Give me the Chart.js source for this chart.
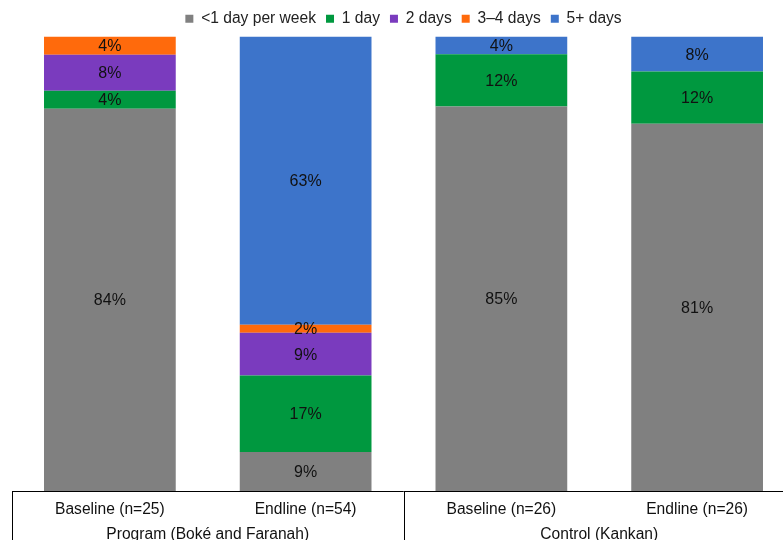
<!DOCTYPE html>
<html>
<head>
<meta charset="utf-8">
<script src="https://cdn.jsdelivr.net/npm/chart.js@4/dist/chart.umd.min.js"></script>
<style>
html,body{margin:0;padding:0;background:#fff;overflow:hidden;width:783px;height:540px;}
#wrap{position:absolute;left:0;top:0;width:800px;height:560px;}
</style>
</head>
<body>
<div id="wrap"><canvas id="c" width="800" height="560"></canvas></div>
<script>
const categories = ["Baseline (n=25)", "Endline (n=54)", "Baseline (n=26)", "Endline (n=26)"];
const groups = ["Program (Boké and Faranah)", "Control (Kankan)"];
const seriesNames = ["<1 day per week", "1 day", "2 days", "3\u20134 days", "5+ days"];
const lessThanOne = [84.1, 8.6, 84.6, 80.8];
const oneDay = [4.0, 16.8, 11.5, 11.5];
const twoDays = [7.9, 9.4, 0, 0];
const threeFourDays = [4.0, 1.8, 0, 0];
const fivePlus = [0, 63.4, 3.9, 7.7];
const colors = ["#808080", "#00983F", "#7A3BBE", "#FF6A0C", "#3D74CA"];

const FONT = "'Liberation Sans', Arial, Helvetica, sans-serif";
const FS = 15.6;

const seriesData = [lessThanOne, oneDay, twoDays, threeFourDays, fivePlus];

const labelPlugin = {
  id: 'barLabels',
  afterDatasetsDraw(chart) {
    const ctx = chart.ctx;
    ctx.save();
    ctx.font = "16px " + FONT;
    ctx.fillStyle = "#111";
    ctx.textAlign = "center";
    ctx.textBaseline = "middle";
    chart.data.datasets.forEach((ds, i) => {
      const meta = chart.getDatasetMeta(i);
      meta.data.forEach((el, j) => {
        const v = ds.data[j];
        if (!v) return;
        const p = el.getProps(['x', 'y', 'base'], true);
        ctx.fillText(Math.round(v) + "%", p.x, (p.y + p.base) / 2 + 1);
      });
    });
    ctx.restore();
  }
};

const framePlugin = {
  id: 'frame',
  afterDraw(chart) {
    const ctx = chart.ctx;
    const a = chart.chartArea;
    const xs = chart.scales.x;
    const mid = (xs.getPixelForValue(1) + xs.getPixelForValue(2)) / 2;
    ctx.save();
    ctx.strokeStyle = "#000";
    ctx.lineWidth = 1;
    ctx.beginPath();
    ctx.moveTo(a.left, a.bottom + 0.5);
    ctx.lineTo(a.right, a.bottom + 0.5);
    [a.left, mid, a.right].forEach(x => {
      const px = Math.round(x) + 0.5;
      ctx.moveTo(px, a.bottom);
      ctx.lineTo(px, chart.height);
    });
    ctx.stroke();
    ctx.restore();
  }
};

new Chart(document.getElementById('c'), {
  type: 'bar',
  data: {
    labels: categories,
    datasets: seriesNames.map((n, i) => ({
      label: n,
      data: seriesData[i],
      backgroundColor: colors[i],
      borderWidth: 0,
      categoryPercentage: 1,
      barPercentage: 0.673
    }))
  },
  options: {
    responsive: false,
    animation: false,
    layout: { padding: { left: 12, right: 5, top: 1, bottom: 0 } },
    plugins: {
      legend: {
        position: 'top',
        labels: {
          boxWidth: 8, boxHeight: 8,
          font: { family: FONT, size: FS },
          color: "#222",
          padding: 10
        }
      },
      tooltip: { enabled: false }
    },
    scales: {
      x: {
        stacked: true,
        grid: { display: false, drawTicks: false },
        border: { display: false },
        ticks: { font: { family: FONT, size: FS }, color: "#111", padding: 9, maxRotation: 0 },
        afterFit(s) { s.height = 30; }
      },
      x2: {
        type: 'category',
        labels: groups,
        position: 'bottom',
        offset: true,
        grid: { display: false, drawTicks: false },
        border: { display: false },
        ticks: { font: { family: FONT, size: FS }, color: "#111", padding: 4, maxRotation: 0 },
        afterFit(s) { s.height = 39; }
      },
      y: {
        stacked: true,
        display: false,
        min: 0, max: 100
      }
    }
  },
  plugins: [labelPlugin, framePlugin]
});
</script>
</body>
</html>
